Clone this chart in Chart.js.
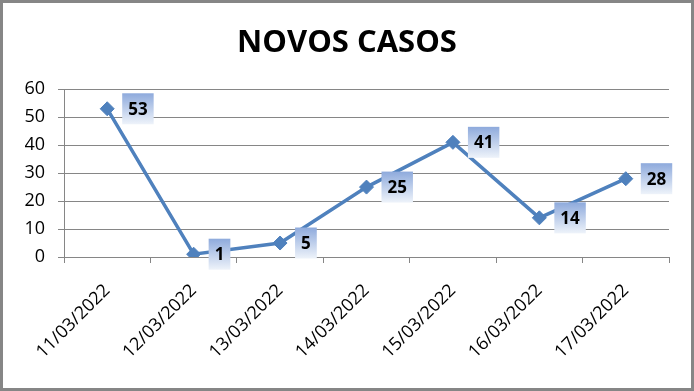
<!DOCTYPE html>
<html>
<head>
  <meta charset="UTF-8">
  <title>Novos Casos</title>
  <script src="https://cdn.jsdelivr.net/npm/chart.js"></script>
  <style>
    html, body { margin: 0; padding: 0; background: #fff; }
    #wrap { width: 694px; height: 391px; }
  </style>
</head>
<body>
  <div id="wrap"><canvas id="chart" width="694" height="391"></canvas></div>

  <script>
    // dados do gráfico
    const datas = ['11/03/2022', '12/03/2022', '13/03/2022', '14/03/2022', '15/03/2022', '16/03/2022', '17/03/2022'];
    const novosCasos = [53, 1, 5, 25, 41, 14, 28];
    const yTicks = [0, 10, 20, 30, 40, 50, 60];

    const fontFamily = '"Open Sans", "Liberation Sans", sans-serif';

    // moldura cinza em volta do gráfico
    const frame = {
      id: 'frame',
      beforeDraw(chart) {
        const ctx = chart.ctx;
        ctx.save();
        ctx.fillStyle = '#fff';
        ctx.fillRect(0, 0, chart.width, chart.height);
        ctx.restore();
      },
      afterDraw(chart) {
        const ctx = chart.ctx;
        ctx.save();
        ctx.strokeStyle = '#868686';
        ctx.lineWidth = 3;
        ctx.strokeRect(1.5, 1.5, chart.width - 3, chart.height - 3);
        ctx.restore();
      }
    };

    // rótulos com caixinha em degradê à direita de cada ponto
    const rotulos = {
      id: 'rotulos',
      afterDatasetsDraw(chart) {
        const ctx = chart.ctx;
        const meta = chart.getDatasetMeta(0);
        ctx.save();
        ctx.font = 'bold 17px ' + fontFamily;
        ctx.textAlign = 'center';
        ctx.textBaseline = 'middle';
        meta.data.forEach((pt, i) => {
          const txt = String(chart.data.datasets[0].data[i]);
          const w = ctx.measureText(txt).width + 12;
          const h = 31;
          const x = pt.x + 15;
          const y = pt.y - h / 2;
          const g = ctx.createLinearGradient(0, y, 0, y + h);
          g.addColorStop(0, '#8eaadc');
          g.addColorStop(1, '#eef3fa');
          ctx.fillStyle = g;
          ctx.fillRect(x, y, w, h);
          ctx.fillStyle = '#000';
          ctx.fillText(txt, x + w / 2, pt.y + 1);
        });
        ctx.restore();
      }
    };

    new Chart(document.getElementById('chart'), {
      type: 'line',
      data: {
        labels: datas,
        datasets: [{
          label: 'Novos casos',
          data: novosCasos,
          borderColor: '#4f81bd',
          backgroundColor: '#4f81bd',
          borderWidth: 3.5,
          tension: 0,
          pointStyle: 'rectRot',
          pointRadius: 7,
          pointBorderWidth: 1,
          pointBorderColor: '#4f81bd',
          pointBackgroundColor: '#4f81bd',
          fill: false
        }]
      },
      options: {
        responsive: false,
        animation: false,
        layout: { padding: { left: 25, right: 25, top: 25, bottom: 0 } },
        plugins: {
          legend: { display: false },
          tooltip: { enabled: false },
          title: {
            display: true,
            text: 'NOVOS CASOS',
            color: '#000',
            font: { family: fontFamily, size: 31, weight: 'bold', lineHeight: 1.2 },
            padding: { top: 0, bottom: 27 }
          }
        },
        scales: {
          x: {
            offset: true,
            afterFit(scale) { scale.height = 134; },
            grid: {
              offset: true,
              drawOnChartArea: false,
              drawTicks: true,
              tickLength: 6,
              color: '#868686'
            },
            border: { color: '#868686', width: 1 },
            ticks: {
              color: '#000',
              minRotation: 45,
              maxRotation: 45,
              padding: 17,
              font: { family: fontFamily, size: 18 }
            }
          },
          y: {
            min: 0,
            max: 60,
            afterFit(scale) { scale.width = 39; },
            afterBuildTicks(scale) { scale.ticks = yTicks.map(v => ({ value: v })); },
            grid: {
              color: '#868686',
              drawTicks: true,
              tickLength: 6
            },
            border: { color: '#868686', width: 1 },
            ticks: {
              color: '#000',
              padding: 13,
              font: { family: fontFamily, size: 18 }
            }
          }
        }
      },
      plugins: [frame, rotulos]
    });
  </script>
</body>
</html>
